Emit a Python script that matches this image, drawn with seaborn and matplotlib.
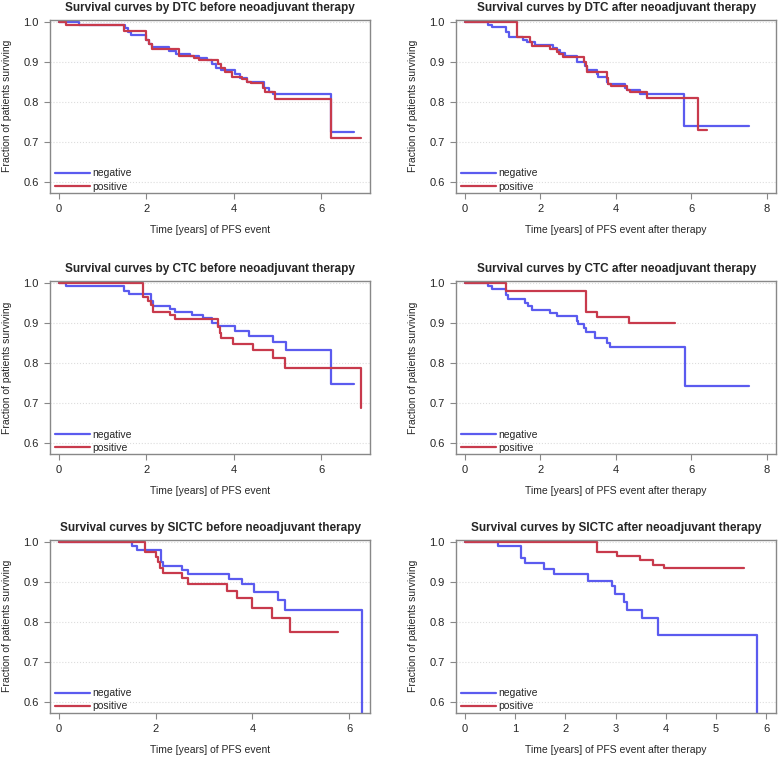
import pandas as pd
from matplotlib import pyplot as plt
import numpy as np
import seaborn as sns

# Kaplan-Meier step curves: event times (years) and survival after each step
dtc_before_neg_t = [0, 0.47, 1.52, 1.58, 1.65, 2.0, 2.07, 2.13, 2.53, 2.68, 3.0, 3.2, 3.4, 3.5, 3.6, 3.7, 4.03, 4.15, 4.3, 4.7, 4.8, 4.9, 6.23, 6.75]
dtc_before_neg_s = [1.0, 0.993, 0.985, 0.975, 0.966, 0.955, 0.945, 0.937, 0.928, 0.92, 0.915, 0.91, 0.903, 0.893, 0.885, 0.88, 0.87, 0.86, 0.848, 0.833, 0.825, 0.818, 0.725, 0.725]
dtc_before_pos_t = [0, 0.17, 1.5, 2.0, 2.07, 2.13, 2.76, 3.1, 3.2, 3.64, 3.7, 3.8, 3.95, 4.2, 4.3, 4.4, 4.66, 4.72, 4.95, 6.23, 6.9]
dtc_before_pos_s = [1.0, 0.993, 0.977, 0.955, 0.945, 0.932, 0.915, 0.91, 0.905, 0.893, 0.885, 0.875, 0.862, 0.857, 0.85, 0.847, 0.835, 0.823, 0.807, 0.71, 0.71]

dtc_after_neg_t = [0, 0.62, 0.71, 1.08, 1.17, 1.55, 1.65, 1.86, 2.34, 2.45, 2.52, 2.65, 2.96, 3.18, 3.22, 3.49, 3.53, 3.76, 3.8, 4.24, 4.3, 4.64, 5.79, 7.52]
dtc_after_neg_s = [1.0, 0.993, 0.987, 0.975, 0.962, 0.955, 0.95, 0.942, 0.935, 0.93, 0.922, 0.915, 0.9, 0.888, 0.88, 0.87, 0.862, 0.85, 0.845, 0.835, 0.83, 0.818, 0.74, 0.74]
dtc_after_pos_t = [0, 1.37, 1.72, 1.77, 2.25, 2.45, 2.5, 2.6, 3.14, 3.2, 3.23, 3.76, 3.8, 3.86, 4.3, 4.36, 4.82, 6.17, 6.41]
dtc_after_pos_s = [1.0, 0.962, 0.95, 0.94, 0.932, 0.925, 0.92, 0.912, 0.9, 0.888, 0.875, 0.86, 0.845, 0.838, 0.83, 0.825, 0.81, 0.728, 0.728]

ctc_before_neg_t = [0, 0.17, 1.5, 1.6, 2.11, 2.15, 2.55, 2.66, 3.05, 3.3, 3.5, 3.65, 4.03, 4.36, 4.89, 5.2, 6.23, 6.75]
ctc_before_neg_s = [1.0, 0.993, 0.98, 0.972, 0.955, 0.942, 0.935, 0.928, 0.92, 0.912, 0.9, 0.892, 0.88, 0.868, 0.853, 0.833, 0.748, 0.748]
ctc_before_pos_t = [0, 1.93, 2.05, 2.1, 2.15, 2.55, 2.65, 3.64, 3.68, 3.72, 3.98, 4.45, 4.89, 5.16, 6.91]
ctc_before_pos_s = [1.0, 0.965, 0.955, 0.945, 0.928, 0.92, 0.91, 0.89, 0.875, 0.862, 0.848, 0.833, 0.813, 0.788, 0.687]

ctc_after_neg_t = [0, 0.62, 0.72, 1.1, 1.15, 1.59, 1.67, 1.77, 2.25, 2.43, 2.96, 3.0, 3.14, 3.2, 3.45, 3.76, 3.85, 5.82, 7.52]
ctc_after_neg_s = [1.0, 0.993, 0.985, 0.97, 0.96, 0.95, 0.943, 0.933, 0.925, 0.918, 0.905, 0.897, 0.888, 0.876, 0.863, 0.85, 0.84, 0.742, 0.742]
ctc_after_pos_t = [0, 1.1, 3.2, 3.49, 4.35, 5.55]
ctc_after_pos_s = [1.0, 0.98, 0.928, 0.915, 0.9, 0.9]

sictc_before_neg_t = [0, 1.51, 1.61, 2.11, 2.15, 2.55, 2.66, 3.52, 3.79, 4.04, 4.52, 4.68, 6.26]
sictc_before_neg_s = [1.0, 0.99, 0.98, 0.95, 0.94, 0.93, 0.92, 0.906, 0.893, 0.874, 0.853, 0.828, 0.0]
sictc_before_pos_t = [0, 1.78, 2.01, 2.05, 2.1, 2.15, 2.55, 2.66, 3.48, 3.68, 3.98, 4.4, 4.78, 5.76]
sictc_before_pos_s = [1.0, 0.975, 0.962, 0.95, 0.935, 0.922, 0.908, 0.895, 0.877, 0.858, 0.835, 0.81, 0.775, 0.775]

sictc_after_neg_t = [0, 0.65, 1.11, 1.19, 1.57, 1.77, 2.44, 2.93, 2.98, 3.17, 3.22, 3.53, 3.85, 5.82]
sictc_after_neg_s = [1.0, 0.988, 0.96, 0.947, 0.932, 0.918, 0.902, 0.89, 0.868, 0.85, 0.83, 0.81, 0.766, 0.0]
sictc_after_pos_t = [0, 2.62, 3.02, 3.48, 3.75, 3.97, 5.56]
sictc_after_pos_s = [1.0, 0.975, 0.965, 0.953, 0.942, 0.935, 0.935]

titles = ['Survival curves by DTC before neoadjuvant therapy',
          'Survival curves by DTC after neoadjuvant therapy',
          'Survival curves by CTC before neoadjuvant therapy',
          'Survival curves by CTC after neoadjuvant therapy',
          'Survival curves by SICTC before neoadjuvant therapy',
          'Survival curves by SICTC after neoadjuvant therapy']
xlabels = ['Time [years] of PFS event', 'Time [years] of PFS event after therapy'] * 3
curves = [(dtc_before_neg_t, dtc_before_neg_s, dtc_before_pos_t, dtc_before_pos_s),
          (dtc_after_neg_t, dtc_after_neg_s, dtc_after_pos_t, dtc_after_pos_s),
          (ctc_before_neg_t, ctc_before_neg_s, ctc_before_pos_t, ctc_before_pos_s),
          (ctc_after_neg_t, ctc_after_neg_s, ctc_after_pos_t, ctc_after_pos_s),
          (sictc_before_neg_t, sictc_before_neg_s, sictc_before_pos_t, sictc_before_pos_s),
          (sictc_after_neg_t, sictc_after_neg_s, sictc_after_pos_t, sictc_after_pos_s)]
xticks = [[0, 2, 4, 6], [0, 2, 4, 6, 8]] * 2 + [[0, 2, 4, 6], [0, 1, 2, 3, 4, 5, 6]]
xlims = [(-0.2, 7.12), (-0.24, 8.25)] * 2 + [(-0.18, 6.43), (-0.18, 6.2)]
yticks = [0.6, 0.7, 0.8, 0.9, 1.0]

sns.set_style('white')
plt.rcParams['font.family'] = ['Liberation Sans', 'DejaVu Sans']

palette = {'negative': '#5b5bef', 'positive': '#c83a4c'}
frame = '#888888'

fig = plt.figure(figsize=(7.78, 7.59), dpi=100)
lefts = [0.064, 0.586]
bottoms = [0.746, 0.402, 0.061]

for i in range(6):
    ax = fig.add_axes([lefts[i % 2], bottoms[i // 2], 0.412, 0.228])
    nt, ns, pt, ps = curves[i]
    df = pd.DataFrame({'time': nt + pt, 'surv': ns + ps,
                       'group': ['negative'] * len(nt) + ['positive'] * len(pt)})
    sns.lineplot(data=df, x='time', y='surv', hue='group', palette=palette,
                 estimator=None, sort=False, drawstyle='steps-post',
                 linewidth=1.6, ax=ax)
    ax.set_xlim(*xlims[i])
    ax.set_ylim(0.572, 1.005)
    ax.set_xticks(xticks[i])
    ax.set_yticks(yticks)
    ax.set_yticklabels(['0.6', '0.7', '0.8', '0.9', '1.0'])
    ax.yaxis.grid(True, color='#dddddd', linestyle=':', linewidth=0.8)
    ax.tick_params(axis='both', direction='out', length=4, width=0.8,
                   color=frame, labelsize=8, pad=4, left=True, bottom=True)
    for sp in ax.spines.values():
        sp.set_color(frame)
        sp.set_linewidth(1.0)
    ax.set_title(titles[i], fontsize=8.5, fontweight='bold', pad=6)
    ax.set_xlabel(xlabels[i], fontsize=7.5, labelpad=8)
    ax.set_ylabel('Fraction of patients surviving', fontsize=7.5, labelpad=8)
    ax.legend(loc='lower left', bbox_to_anchor=(-0.006, -0.035), frameon=False,
              fontsize=7.5, handlelength=3.3, handletextpad=0.3,
              labelspacing=0.3, borderaxespad=0.3, title=None)

fig.savefig('out.png', dpi=100)
